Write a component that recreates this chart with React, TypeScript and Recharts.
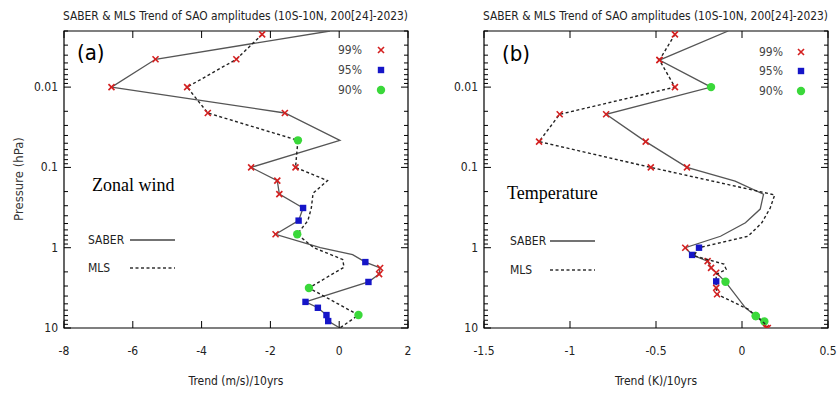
import React from "react";
import { ScatterChart, Scatter, XAxis, YAxis, ReferenceArea } from "recharts";

// pressure levels (hPa), trends and significance flags
const saberWindP = [0.002, 0.0045, 0.01, 0.021, 0.046, 0.1, 0.146, 0.215, 0.32, 0.46, 0.68, 1.0, 1.22, 1.51, 1.79, 2.13, 2.67, 4.73, 5.6, 6.9, 8.2, 10];
const saberWindT = [-0.27, -5.34, -6.62, -1.58, 0.02, -2.56, -1.8, -1.74, -1.05, -1.18, -1.85, -0.55, 0.39, 0.76, 1.19, 1.16, 0.85, -0.98, -0.62, -0.37, -0.32, 0.02];
const saberWindSig = ["", "99", "99", "99", "", "99", "99", "99", "95", "95", "99", "", "", "95", "99", "99", "95", "95", "95", "95", "95", ""];

const mlsWindP = [0.0022, 0.0045, 0.01, 0.021, 0.046, 0.1, 0.146, 0.21, 0.32, 0.46, 0.68, 1.0, 1.4, 1.75, 3.17, 6.9, 10];
const mlsWindT = [-2.24, -2.99, -4.42, -3.82, -1.2, -1.27, -0.34, -0.76, -0.81, -0.91, -1.22, -0.74, 0.1, 0.14, -0.88, 0.56, 0.02];
const mlsWindSig = ["99", "99", "99", "99", "90", "99", "", "", "", "", "90", "", "", "", "90", "90", ""];

const saberTempP = [0.002, 0.0046, 0.01, 0.0218, 0.0477, 0.1, 0.148, 0.216, 0.33, 0.49, 0.72, 1.0, 1.23, 1.47, 1.78, 2.05, 2.66, 5.6, 7.1, 8.3, 10];
const saberTempT = [-0.08, -0.48, -0.18, -0.79, -0.56, -0.32, -0.04, 0.125, 0.106, 0.02, -0.125, -0.33, -0.29, -0.2, -0.18, -0.15, -0.096, 0.02, 0.08, 0.13, 0.14];
const saberTempSig = ["", "99", "90", "99", "99", "99", "", "", "", "", "", "99", "95", "99", "99", "99", "90", "", "90", "90", "99"];

const mlsTempP = [0.0022, 0.0046, 0.01, 0.0218, 0.0477, 0.1, 0.22, 0.32, 0.49, 0.72, 1.0, 1.26, 1.6, 1.86, 2.15, 2.63, 3.17, 3.8, 5.9, 7.1, 8.7, 10];
const mlsTempT = [-0.39, -0.48, -0.39, -1.06, -1.18, -0.53, 0.19, 0.164, 0.115, 0.035, -0.25, -0.28, -0.105, -0.092, -0.15, -0.15, -0.15, -0.145, 0.04, 0.08, 0.13, 0.15];
const mlsTempSig = ["99", "99", "99", "99", "99", "99", "", "", "", "", "95", "", "", "", "", "95", "99", "99", "", "90", "", "99"];

const windTicks = [-8, -6, -4, -2, 0, 2];
const tempTicks = [-1.5, -1, -0.5, 0, 0.5];
const majorP = [0.01, 0.1, 1, 10];
const minorMult = [2, 3, 4, 5, 6, 7, 8, 9];
const decades = [0.001, 0.01, 0.1, 1];

const TITLE = "SABER & MLS  Trend of SAO amplitudes (10S-10N, 200[24]-2023)";
const FONT = "'DejaVu Sans Condensed', 'Liberation Sans', sans-serif";

const pTicks = [
  ...decades.flatMap((d) => minorMult.map((m) => +(d * m).toPrecision(3))).filter((v) => v >= 0.002),
  ...majorP,
].sort((a, b) => a - b);

const rows = (p: number[], t: number[], s: string[]) => p.map((v, i) => ({ p: v, t: t[i], sig: s[i] }));

// plot box, shared by both panels (chart-local px)
const W = 420;
const H = 394;
const L = 64;
const R = 408;
const TOP = 31;
const BOT = 328;

function Mark({ x, y, sig }: { x: number; y: number; sig: string }) {
  if (sig === "99")
    return (
      <g stroke="#d42020" strokeWidth={1.6}>
        <line x1={x - 3} y1={y - 3} x2={x + 3} y2={y + 3} />
        <line x1={x - 3} y1={y + 3} x2={x + 3} y2={y - 3} />
      </g>
    );
  if (sig === "95") return <rect x={x - 3.2} y={y - 3.2} width={6.4} height={6.4} fill="#1515c8" />;
  if (sig === "90") return <circle cx={x} cy={y} r={4.2} fill="#3ad83a" />;
  return <g />;
}

const shape = (props: any) => <Mark x={props.cx} y={props.cy} sig={props.payload.sig} />;

function PTick(props: any) {
  const { y, payload } = props;
  const v = payload.value;
  const major = majorP.includes(v);
  const len = major ? 7 : 4;
  return (
    <g>
      <line x1={L} x2={L + len} y1={y} y2={y} stroke="#000" />
      <line x1={R - len} x2={R} y1={y} y2={y} stroke="#000" />
      {major && (
        <text x={L - 6} y={y} textAnchor="end" dominantBaseline="central" fontSize={12} fill="#222" fontFamily={FONT}>
          {String(v)}
        </text>
      )}
    </g>
  );
}

function TTick(props: any) {
  const { x, payload } = props;
  return (
    <g>
      <line x1={x} x2={x} y1={BOT} y2={BOT - 7} stroke="#000" />
      <line x1={x} x2={x} y1={TOP} y2={TOP + 7} stroke="#000" />
      <text x={x} y={351} textAnchor="middle" dominantBaseline="central" fontSize={12} fill="#222" fontFamily={FONT}>
        {String(payload.value)}
      </text>
    </g>
  );
}

function Panel({ saber, mls, domain, ticks }: { saber: any[]; mls: any[]; domain: [number, number]; ticks: number[] }) {
  return (
    <ScatterChart width={W} height={H} margin={{ top: TOP, right: W - R, bottom: 0, left: 0 }}>
      <XAxis
        type="number"
        dataKey="t"
        domain={domain}
        ticks={ticks}
        allowDataOverflow
        axisLine={false}
        tickLine={false}
        height={H - BOT}
        tick={<TTick />}
        interval={0}
      />
      <YAxis
        type="number"
        dataKey="p"
        scale="log"
        domain={[0.002, 10]}
        reversed
        allowDataOverflow
        ticks={pTicks}
        interval={0}
        axisLine={false}
        tickLine={false}
        width={L}
        tick={<PTick />}
      />
      <ReferenceArea x1={domain[0]} x2={domain[1]} y1={0.002} y2={10} fill="none" stroke="#000" strokeWidth={1.2} />
      <Scatter
        data={saber}
        line={{ stroke: "#555", strokeWidth: 1.3 }}
        lineType="joint"
        shape={shape}
        isAnimationActive={false}
      />
      <Scatter
        data={mls}
        line={{ stroke: "#222", strokeWidth: 1.4, strokeDasharray: "3 2.5" }}
        lineType="joint"
        shape={shape}
        isAnimationActive={false}
      />
    </ScatterChart>
  );
}

function Annotations() {
  const txt = { fontFamily: FONT, fill: "#222" };
  const sigLegend = (tx: number, mx: number, ys: number[]) =>
    ["99", "95", "90"].map((s, i) => (
      <g key={s}>
        <text x={tx} y={ys[i]} dominantBaseline="central" fontSize={12} {...txt} fill="#444">
          {s + "%"}
        </text>
        <Mark x={mx} y={ys[i]} sig={s} />
      </g>
    ));
  const lineLegend = (tx: number, lx: number, y1: number, y2: number) => (
    <g>
      <text x={tx} y={y1} dominantBaseline="central" fontSize={12} {...txt}>SABER</text>
      <line x1={lx} x2={lx + 45} y1={y1} y2={y1} stroke="#444" strokeWidth={1.4} />
      <text x={tx} y={y2} dominantBaseline="central" fontSize={12} {...txt}>MLS</text>
      <line x1={lx} x2={lx + 45} y1={y2} y2={y2} stroke="#333" strokeWidth={1.4} strokeDasharray="3 2.5" />
    </g>
  );
  return (
    <svg width={839} height={394} style={{ position: "absolute", left: 0, top: 0, pointerEvents: "none" }}>
      <text x={63} y={19.5} fontSize={12} textLength={345} lengthAdjust="spacingAndGlyphs" {...txt}>{TITLE}</text>
      <text x={483} y={19.5} fontSize={12} textLength={345} lengthAdjust="spacingAndGlyphs" {...txt}>{TITLE}</text>
      <text x={18} y={179} textAnchor="middle" dominantBaseline="central" fontSize={13} transform="rotate(-90 18 179)" {...txt} fill="#333">
        Pressure (hPa)
      </text>
      <text x={236} y={385} textAnchor="middle" fontSize={12} {...txt}>Trend (m/s)/10yrs</text>
      <text x={656} y={385} textAnchor="middle" fontSize={12} {...txt}>Trend (K)/10yrs</text>
      <text x={77} y={60} fontSize={22} fontFamily={FONT} fill="#000">(a)</text>
      <text x={502} y={61} fontSize={22} fontFamily={FONT} fill="#000">(b)</text>
      <text x={92} y={191} fontSize={18} fontFamily="'Liberation Serif', serif" fill="#000">Zonal wind</text>
      <text x={507} y={199} fontSize={18} fontFamily="'Liberation Serif', serif" fill="#000">Temperature</text>
      {sigLegend(338, 381, [50, 70, 90])}
      {sigLegend(759, 801, [52, 71, 91])}
      {lineLegend(88, 130, 240, 268)}
      {lineLegend(510, 550, 241, 270)}
    </svg>
  );
}

export default function App() {
  return (
    <div style={{ position: "absolute", left: 0, top: 0, width: 839, height: 394, background: "#fff" }}>
      <div style={{ position: "absolute", left: 0, top: 0 }}>
        <Panel saber={rows(saberWindP, saberWindT, saberWindSig)} mls={rows(mlsWindP, mlsWindT, mlsWindSig)} domain={[-8, 2]} ticks={windTicks} />
      </div>
      <div style={{ position: "absolute", left: 420, top: 0 }}>
        <Panel saber={rows(saberTempP, saberTempT, saberTempSig)} mls={rows(mlsTempP, mlsTempT, mlsTempSig)} domain={[-1.5, 0.5]} ticks={tempTicks} />
      </div>
      <Annotations />
    </div>
  );
}
